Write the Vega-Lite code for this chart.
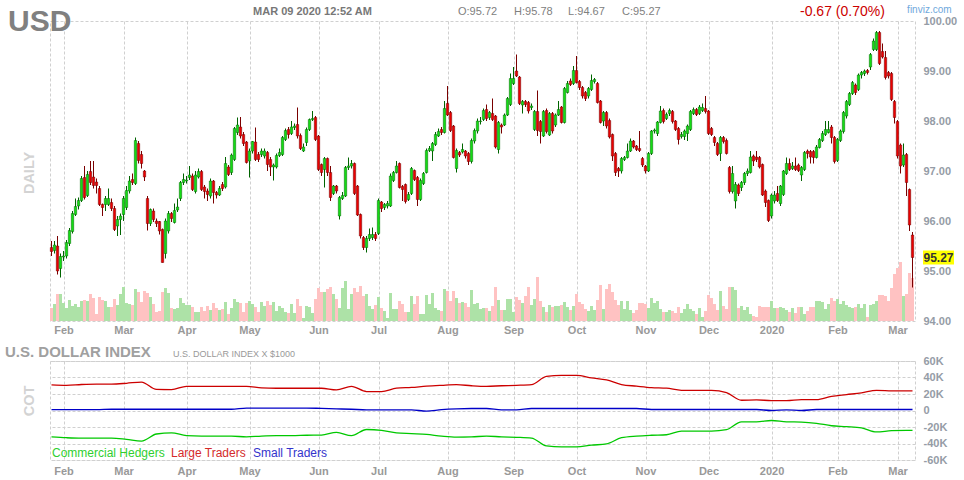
{
  "$schema": "https://vega.github.io/schema/vega-lite/v6.json",
  "background": "white",
  "padding": {"left": 4, "top": 3, "right": 0, "bottom": 0},
  "spacing": 8,
  "config": {
    "view": {"stroke": "#d0d0d0", "strokeDash": [3, 2]},
    "axis": {"gridColor": "#d0d0d0", "gridDash": [3, 2], "domain": false, "ticks": false, "tickSize": 0, "labelFont": "Liberation Sans", "labelFontWeight": "bold", "labelFontSize": 11, "labelColor": "#999999", "labelOverlap": false, "labelFlush": false},
    "text": {"font": "Liberation Sans"}
  },
  "datasets": {
    "px": [
      {"i":0,"o":95.47,"h":95.6,"l":95.3,"c":95.39,"v":13},
      {"i":1,"o":95.41,"h":95.6,"l":95.35,"c":95.52,"v":17},
      {"i":2,"o":95.5,"h":95.7,"l":94.93,"c":95.0,"v":27},
      {"i":3,"o":95.05,"h":95.35,"l":94.87,"c":95.29,"v":27},
      {"i":4,"o":95.28,"h":95.4,"l":95.2,"c":95.3,"v":18},
      {"i":5,"o":95.3,"h":95.62,"l":95.25,"c":95.57,"v":13},
      {"i":6,"o":95.55,"h":95.86,"l":95.5,"c":95.81,"v":21},
      {"i":7,"o":95.79,"h":96.2,"l":95.75,"c":96.15,"v":15},
      {"i":8,"o":96.13,"h":96.45,"l":96.1,"c":96.29,"v":17},
      {"i":9,"o":96.3,"h":96.47,"l":96.23,"c":96.41,"v":14},
      {"i":10,"o":96.41,"h":96.9,"l":96.38,"c":96.85,"v":20},
      {"i":11,"o":96.87,"h":97.1,"l":96.43,"c":96.47,"v":21},
      {"i":12,"o":96.51,"h":97.0,"l":96.48,"c":96.93,"v":20},
      {"i":13,"o":96.99,"h":97.2,"l":96.72,"c":96.77,"v":27},
      {"i":14,"o":96.88,"h":97.2,"l":96.65,"c":96.71,"v":23},
      {"i":15,"o":96.78,"h":96.85,"l":96.55,"c":96.71,"v":7},
      {"i":16,"o":96.65,"h":96.7,"l":96.3,"c":96.33,"v":24},
      {"i":17,"o":96.33,"h":96.35,"l":96.1,"c":96.27,"v":21},
      {"i":18,"o":96.33,"h":96.5,"l":96.2,"c":96.45,"v":20},
      {"i":19,"o":96.33,"h":96.65,"l":96.3,"c":96.45,"v":14},
      {"i":20,"o":96.37,"h":96.45,"l":96.2,"c":96.25,"v":14},
      {"i":21,"o":96.25,"h":96.3,"l":95.8,"c":95.83,"v":22},
      {"i":22,"o":95.9,"h":96.1,"l":95.7,"c":96.03,"v":16},
      {"i":23,"o":96.03,"h":96.15,"l":95.72,"c":96.1,"v":27},
      {"i":24,"o":96.13,"h":96.5,"l":96.0,"c":96.45,"v":34},
      {"i":25,"o":96.27,"h":96.7,"l":96.22,"c":96.61,"v":18},
      {"i":26,"o":96.6,"h":96.9,"l":96.55,"c":96.8,"v":17},
      {"i":27,"o":96.83,"h":96.95,"l":96.72,"c":96.77,"v":16},
      {"i":28,"o":96.75,"h":97.67,"l":96.72,"c":97.61,"v":32},
      {"i":29,"o":97.55,"h":97.6,"l":97.15,"c":97.21,"v":29},
      {"i":30,"o":97.33,"h":97.4,"l":97.05,"c":97.15,"v":19},
      {"i":31,"o":97.0,"h":97.02,"l":96.8,"c":96.88,"v":30},
      {"i":32,"o":96.45,"h":96.5,"l":95.81,"c":95.95,"v":28},
      {"i":33,"o":95.95,"h":96.25,"l":95.9,"c":96.23,"v":24},
      {"i":34,"o":96.2,"h":96.25,"l":95.98,"c":96.03,"v":17},
      {"i":35,"o":96.0,"h":96.05,"l":95.88,"c":95.95,"v":9},
      {"i":36,"o":95.99,"h":96.0,"l":95.73,"c":95.8,"v":10},
      {"i":37,"o":95.83,"h":95.85,"l":95.17,"c":95.17,"v":29},
      {"i":38,"o":95.35,"h":96.05,"l":95.25,"c":96.0,"v":33},
      {"i":39,"o":95.8,"h":96.2,"l":95.75,"c":96.15,"v":28},
      {"i":40,"o":96.15,"h":96.18,"l":95.98,"c":96.05,"v":13},
      {"i":41,"o":95.97,"h":96.35,"l":95.95,"c":96.21,"v":12},
      {"i":42,"o":96.22,"h":96.45,"l":96.18,"c":96.28,"v":13},
      {"i":43,"o":96.45,"h":96.8,"l":96.4,"c":96.77,"v":23},
      {"i":44,"o":96.77,"h":96.95,"l":96.72,"c":96.83,"v":18},
      {"i":45,"o":96.8,"h":96.9,"l":96.75,"c":96.82,"v":16},
      {"i":46,"o":96.87,"h":97.1,"l":96.82,"c":96.92,"v":16},
      {"i":47,"o":96.9,"h":96.95,"l":96.6,"c":96.63,"v":14},
      {"i":48,"o":96.59,"h":97.0,"l":96.55,"c":96.92,"v":9},
      {"i":49,"o":96.88,"h":97.05,"l":96.85,"c":96.99,"v":9},
      {"i":50,"o":96.99,"h":97.02,"l":96.6,"c":96.63,"v":14},
      {"i":51,"o":96.68,"h":96.72,"l":96.45,"c":96.59,"v":10},
      {"i":52,"o":96.6,"h":96.65,"l":96.4,"c":96.53,"v":15},
      {"i":53,"o":96.5,"h":96.85,"l":96.45,"c":96.8,"v":11},
      {"i":54,"o":96.8,"h":96.82,"l":96.35,"c":96.57,"v":18},
      {"i":55,"o":96.57,"h":96.6,"l":96.45,"c":96.52,"v":13},
      {"i":56,"o":96.52,"h":96.7,"l":96.5,"c":96.65,"v":11},
      {"i":57,"o":96.73,"h":96.78,"l":96.6,"c":96.65,"v":12},
      {"i":58,"o":96.68,"h":97.28,"l":96.65,"c":97.15,"v":19},
      {"i":59,"o":97.08,"h":97.12,"l":96.9,"c":96.93,"v":7},
      {"i":60,"o":96.97,"h":97.35,"l":96.92,"c":97.32,"v":13},
      {"i":61,"o":97.23,"h":97.88,"l":97.2,"c":97.85,"v":22},
      {"i":62,"o":97.77,"h":98.07,"l":97.72,"c":97.92,"v":19},
      {"i":63,"o":97.88,"h":98.08,"l":97.65,"c":97.7,"v":18},
      {"i":64,"o":97.73,"h":97.78,"l":97.5,"c":97.55,"v":9},
      {"i":65,"o":97.58,"h":97.6,"l":97.15,"c":97.17,"v":18},
      {"i":66,"o":97.2,"h":97.45,"l":96.87,"c":97.4,"v":20},
      {"i":67,"o":97.4,"h":97.6,"l":97.35,"c":97.59,"v":17},
      {"i":68,"o":97.58,"h":97.87,"l":97.2,"c":97.23,"v":14},
      {"i":69,"o":97.33,"h":97.38,"l":97.18,"c":97.23,"v":9},
      {"i":70,"o":97.33,"h":97.45,"l":97.28,"c":97.4,"v":19},
      {"i":71,"o":97.3,"h":97.45,"l":97.25,"c":97.4,"v":15},
      {"i":72,"o":97.37,"h":97.4,"l":97.0,"c":97.13,"v":20},
      {"i":73,"o":97.23,"h":97.28,"l":96.9,"c":97.08,"v":16},
      {"i":74,"o":97.08,"h":97.15,"l":96.81,"c":97.12,"v":19},
      {"i":75,"o":97.08,"h":97.35,"l":97.05,"c":97.31,"v":10},
      {"i":76,"o":97.31,"h":97.45,"l":97.28,"c":97.37,"v":15},
      {"i":77,"o":97.33,"h":97.7,"l":97.3,"c":97.67,"v":13},
      {"i":78,"o":97.63,"h":97.85,"l":97.6,"c":97.81,"v":9},
      {"i":79,"o":97.83,"h":97.88,"l":97.65,"c":97.73,"v":8},
      {"i":80,"o":97.75,"h":98.0,"l":97.72,"c":97.88,"v":17},
      {"i":81,"o":97.87,"h":97.95,"l":97.82,"c":97.9,"v":8},
      {"i":82,"o":97.93,"h":98.27,"l":97.65,"c":97.7,"v":22},
      {"i":83,"o":97.71,"h":97.75,"l":97.42,"c":97.45,"v":15},
      {"i":84,"o":97.4,"h":97.55,"l":97.38,"c":97.48,"v":3},
      {"i":85,"o":97.57,"h":97.87,"l":97.5,"c":97.83,"v":15},
      {"i":86,"o":97.83,"h":98.05,"l":97.8,"c":98.03,"v":14},
      {"i":87,"o":98.03,"h":98.2,"l":98.0,"c":98.05,"v":8},
      {"i":88,"o":98.07,"h":98.1,"l":97.6,"c":97.63,"v":22},
      {"i":89,"o":97.7,"h":97.72,"l":97.0,"c":97.03,"v":33},
      {"i":90,"o":97.13,"h":97.15,"l":96.9,"c":96.97,"v":29},
      {"i":91,"o":97.03,"h":97.28,"l":96.67,"c":97.25,"v":29},
      {"i":92,"o":97.25,"h":97.27,"l":96.9,"c":96.97,"v":32},
      {"i":93,"o":96.97,"h":97.1,"l":96.4,"c":96.47,"v":34},
      {"i":94,"o":96.55,"h":96.72,"l":96.52,"c":96.7,"v":27},
      {"i":95,"o":96.7,"h":96.72,"l":96.55,"c":96.6,"v":22},
      {"i":96,"o":96.1,"h":96.5,"l":96.03,"c":96.47,"v":13},
      {"i":97,"o":96.45,"h":96.58,"l":96.42,"c":96.51,"v":33},
      {"i":98,"o":96.5,"h":97.1,"l":96.48,"c":97.07,"v":40},
      {"i":99,"o":97.07,"h":97.27,"l":97.02,"c":97.1,"v":12},
      {"i":100,"o":97.1,"h":97.22,"l":97.05,"c":97.15,"v":27},
      {"i":101,"o":97.15,"h":97.17,"l":96.52,"c":96.55,"v":33},
      {"i":102,"o":96.7,"h":96.72,"l":96.1,"c":96.12,"v":29},
      {"i":103,"o":96.13,"h":96.15,"l":95.65,"c":95.7,"v":35},
      {"i":104,"o":95.67,"h":95.7,"l":95.42,"c":95.47,"v":25},
      {"i":105,"o":95.47,"h":95.7,"l":95.37,"c":95.65,"v":27},
      {"i":106,"o":95.65,"h":95.85,"l":95.6,"c":95.73,"v":15},
      {"i":107,"o":95.67,"h":95.87,"l":95.62,"c":95.73,"v":12},
      {"i":108,"o":95.73,"h":95.78,"l":95.6,"c":95.65,"v":16},
      {"i":109,"o":95.75,"h":96.45,"l":95.72,"c":96.41,"v":24},
      {"i":110,"o":96.38,"h":96.4,"l":96.18,"c":96.25,"v":13},
      {"i":111,"o":96.27,"h":96.36,"l":96.22,"c":96.33,"v":10},
      {"i":112,"o":96.3,"h":96.4,"l":96.25,"c":96.35,"v":3},
      {"i":113,"o":96.3,"h":96.95,"l":96.28,"c":96.9,"v":28},
      {"i":114,"o":96.81,"h":97.0,"l":96.78,"c":96.97,"v":12},
      {"i":115,"o":96.97,"h":97.2,"l":96.95,"c":97.1,"v":12},
      {"i":116,"o":97.15,"h":97.17,"l":96.65,"c":96.67,"v":20},
      {"i":117,"o":96.69,"h":96.72,"l":96.4,"c":96.63,"v":17},
      {"i":118,"o":96.73,"h":96.75,"l":96.35,"c":96.39,"v":9},
      {"i":119,"o":96.43,"h":96.58,"l":96.4,"c":96.53,"v":9},
      {"i":120,"o":96.55,"h":97.08,"l":96.52,"c":97.05,"v":25},
      {"i":121,"o":97.01,"h":97.03,"l":96.8,"c":96.83,"v":17},
      {"i":122,"o":96.87,"h":96.9,"l":96.3,"c":96.43,"v":25},
      {"i":123,"o":96.43,"h":96.85,"l":96.4,"c":96.81,"v":7},
      {"i":124,"o":96.75,"h":96.98,"l":96.72,"c":96.95,"v":7},
      {"i":125,"o":96.97,"h":97.45,"l":96.95,"c":97.41,"v":26},
      {"i":126,"o":97.41,"h":97.5,"l":97.38,"c":97.45,"v":17},
      {"i":127,"o":97.4,"h":97.58,"l":97.2,"c":97.55,"v":28},
      {"i":128,"o":97.53,"h":97.78,"l":97.5,"c":97.73,"v":13},
      {"i":129,"o":97.7,"h":97.85,"l":97.68,"c":97.79,"v":11},
      {"i":130,"o":97.83,"h":97.88,"l":97.72,"c":97.77,"v":10},
      {"i":131,"o":97.77,"h":98.4,"l":97.75,"c":98.25,"v":32},
      {"i":132,"o":98.35,"h":98.7,"l":98.1,"c":98.12,"v":30},
      {"i":133,"o":98.17,"h":98.2,"l":97.78,"c":97.81,"v":20},
      {"i":134,"o":97.9,"h":97.92,"l":97.25,"c":97.27,"v":30},
      {"i":135,"o":97.05,"h":97.45,"l":96.97,"c":97.41,"v":23},
      {"i":136,"o":97.37,"h":97.4,"l":97.28,"c":97.32,"v":18},
      {"i":137,"o":97.38,"h":97.55,"l":97.35,"c":97.43,"v":19},
      {"i":138,"o":97.4,"h":97.42,"l":97.25,"c":97.3,"v":18},
      {"i":139,"o":97.35,"h":97.38,"l":97.12,"c":97.19,"v":14},
      {"i":140,"o":97.19,"h":97.65,"l":97.15,"c":97.61,"v":31},
      {"i":141,"o":97.6,"h":97.85,"l":97.55,"c":97.81,"v":17},
      {"i":142,"o":97.8,"h":98.05,"l":97.75,"c":98.0,"v":18},
      {"i":143,"o":97.99,"h":98.08,"l":97.93,"c":98.0,"v":12},
      {"i":144,"o":98.03,"h":98.25,"l":98.0,"c":98.21,"v":13},
      {"i":145,"o":98.23,"h":98.33,"l":98.0,"c":98.05,"v":13},
      {"i":146,"o":98.07,"h":98.2,"l":98.02,"c":98.17,"v":10},
      {"i":147,"o":98.15,"h":98.45,"l":98.0,"c":98.03,"v":15},
      {"i":148,"o":98.1,"h":98.12,"l":97.45,"c":97.48,"v":34},
      {"i":149,"o":97.43,"h":98.0,"l":97.35,"c":97.97,"v":21},
      {"i":150,"o":97.92,"h":97.95,"l":97.75,"c":97.88,"v":11},
      {"i":151,"o":97.92,"h":98.15,"l":97.9,"c":98.12,"v":11},
      {"i":152,"o":98.12,"h":98.48,"l":98.1,"c":98.45,"v":22},
      {"i":153,"o":98.33,"h":98.95,"l":98.3,"c":98.85,"v":22},
      {"i":154,"o":98.75,"h":99.08,"l":98.72,"c":98.85,"v":9},
      {"i":155,"o":99.0,"h":99.33,"l":98.88,"c":98.9,"v":24},
      {"i":156,"o":98.88,"h":98.9,"l":98.32,"c":98.35,"v":21},
      {"i":157,"o":98.32,"h":98.42,"l":98.15,"c":98.39,"v":18},
      {"i":158,"o":98.39,"h":98.42,"l":98.28,"c":98.33,"v":25},
      {"i":159,"o":98.37,"h":98.4,"l":98.15,"c":98.2,"v":34},
      {"i":160,"o":98.27,"h":98.35,"l":98.22,"c":98.3,"v":16},
      {"i":161,"o":97.83,"h":98.22,"l":97.8,"c":98.19,"v":22},
      {"i":162,"o":98.19,"h":98.61,"l":97.7,"c":97.81,"v":44},
      {"i":163,"o":97.99,"h":98.02,"l":97.55,"c":97.79,"v":20},
      {"i":164,"o":97.7,"h":98.22,"l":97.68,"c":98.19,"v":14},
      {"i":165,"o":98.21,"h":98.25,"l":97.75,"c":97.79,"v":9},
      {"i":166,"o":97.72,"h":98.18,"l":97.7,"c":98.15,"v":16},
      {"i":167,"o":98.15,"h":98.18,"l":97.75,"c":97.8,"v":14},
      {"i":168,"o":97.92,"h":98.15,"l":97.88,"c":98.12,"v":15},
      {"i":169,"o":98.12,"h":98.4,"l":98.1,"c":98.23,"v":15},
      {"i":170,"o":98.28,"h":98.3,"l":97.95,"c":97.97,"v":16},
      {"i":171,"o":97.97,"h":98.68,"l":97.95,"c":98.65,"v":19},
      {"i":172,"o":98.57,"h":98.8,"l":98.55,"c":98.75,"v":14},
      {"i":173,"o":98.8,"h":98.85,"l":98.7,"c":98.73,"v":11},
      {"i":174,"o":98.75,"h":99.1,"l":98.72,"c":99.01,"v":15},
      {"i":175,"o":99.01,"h":99.3,"l":98.75,"c":98.77,"v":27},
      {"i":176,"o":98.79,"h":98.82,"l":98.62,"c":98.67,"v":19},
      {"i":177,"o":98.67,"h":98.7,"l":98.45,"c":98.5,"v":17},
      {"i":178,"o":98.57,"h":98.6,"l":98.4,"c":98.45,"v":12},
      {"i":179,"o":98.5,"h":98.68,"l":98.45,"c":98.65,"v":10},
      {"i":180,"o":98.63,"h":98.93,"l":98.6,"c":98.81,"v":15},
      {"i":181,"o":98.79,"h":98.86,"l":98.75,"c":98.83,"v":11},
      {"i":182,"o":98.75,"h":98.78,"l":98.35,"c":98.37,"v":21},
      {"i":183,"o":98.4,"h":98.42,"l":97.95,"c":97.97,"v":36},
      {"i":184,"o":98.0,"h":98.2,"l":97.9,"c":98.17,"v":12},
      {"i":185,"o":98.17,"h":98.2,"l":97.85,"c":97.9,"v":32},
      {"i":186,"o":98.01,"h":98.05,"l":97.65,"c":97.68,"v":37},
      {"i":187,"o":97.73,"h":97.75,"l":97.2,"c":97.3,"v":29},
      {"i":188,"o":97.35,"h":97.38,"l":96.9,"c":96.97,"v":21},
      {"i":189,"o":97.05,"h":97.08,"l":96.88,"c":97.0,"v":16},
      {"i":190,"o":97.0,"h":97.28,"l":96.95,"c":97.25,"v":20},
      {"i":191,"o":97.23,"h":97.3,"l":97.2,"c":97.27,"v":12},
      {"i":192,"o":97.27,"h":97.55,"l":97.25,"c":97.4,"v":20},
      {"i":193,"o":97.4,"h":97.65,"l":97.38,"c":97.6,"v":11},
      {"i":194,"o":97.6,"h":97.62,"l":97.45,"c":97.48,"v":8},
      {"i":195,"o":97.5,"h":97.52,"l":97.4,"c":97.43,"v":11},
      {"i":196,"o":97.45,"h":97.8,"l":97.38,"c":97.41,"v":18},
      {"i":197,"o":97.25,"h":97.28,"l":97.08,"c":97.12,"v":18},
      {"i":198,"o":97.1,"h":97.12,"l":96.95,"c":97.0,"v":17},
      {"i":199,"o":97.0,"h":97.38,"l":96.98,"c":97.35,"v":13},
      {"i":200,"o":97.35,"h":97.82,"l":97.32,"c":97.8,"v":23},
      {"i":201,"o":97.8,"h":97.85,"l":97.75,"c":97.82,"v":18},
      {"i":202,"o":97.75,"h":98.0,"l":97.7,"c":97.98,"v":20},
      {"i":203,"o":97.97,"h":98.3,"l":97.95,"c":98.2,"v":12},
      {"i":204,"o":98.21,"h":98.25,"l":97.95,"c":97.99,"v":9},
      {"i":205,"o":98.05,"h":98.17,"l":98.02,"c":98.13,"v":9},
      {"i":206,"o":98.15,"h":98.25,"l":98.1,"c":98.21,"v":11},
      {"i":207,"o":98.19,"h":98.22,"l":97.95,"c":97.99,"v":10},
      {"i":208,"o":98.0,"h":98.02,"l":97.8,"c":97.83,"v":8},
      {"i":209,"o":97.85,"h":97.88,"l":97.53,"c":97.63,"v":14},
      {"i":210,"o":97.69,"h":97.78,"l":97.65,"c":97.73,"v":8},
      {"i":211,"o":97.69,"h":97.83,"l":97.62,"c":97.8,"v":12},
      {"i":212,"o":97.75,"h":97.93,"l":97.6,"c":97.9,"v":17},
      {"i":213,"o":97.83,"h":98.22,"l":97.8,"c":98.19,"v":12},
      {"i":214,"o":98.15,"h":98.27,"l":98.12,"c":98.23,"v":10},
      {"i":215,"o":98.23,"h":98.26,"l":98.1,"c":98.13,"v":7},
      {"i":216,"o":98.15,"h":98.32,"l":98.12,"c":98.28,"v":13},
      {"i":217,"o":98.21,"h":98.35,"l":98.18,"c":98.27,"v":4},
      {"i":218,"o":98.25,"h":98.5,"l":98.15,"c":98.19,"v":10},
      {"i":219,"o":98.2,"h":98.22,"l":97.72,"c":97.75,"v":26},
      {"i":220,"o":97.85,"h":97.88,"l":97.7,"c":97.73,"v":23},
      {"i":221,"o":97.67,"h":97.7,"l":97.5,"c":97.57,"v":17},
      {"i":222,"o":97.55,"h":97.58,"l":97.3,"c":97.33,"v":11},
      {"i":223,"o":97.35,"h":97.7,"l":97.2,"c":97.67,"v":30},
      {"i":224,"o":97.67,"h":97.7,"l":97.55,"c":97.59,"v":15},
      {"i":225,"o":97.61,"h":97.65,"l":97.33,"c":97.35,"v":12},
      {"i":226,"o":97.07,"h":97.1,"l":96.55,"c":96.59,"v":34},
      {"i":227,"o":96.59,"h":97.1,"l":96.55,"c":96.95,"v":34},
      {"i":228,"o":96.4,"h":96.78,"l":96.25,"c":96.73,"v":31},
      {"i":229,"o":96.72,"h":96.75,"l":96.5,"c":96.55,"v":13},
      {"i":230,"o":96.67,"h":96.8,"l":96.6,"c":96.77,"v":15},
      {"i":231,"o":96.77,"h":96.98,"l":96.72,"c":96.95,"v":11},
      {"i":232,"o":96.95,"h":97.05,"l":96.9,"c":97.0,"v":14},
      {"i":233,"o":96.97,"h":97.4,"l":96.95,"c":97.28,"v":7},
      {"i":234,"o":97.3,"h":97.33,"l":97.1,"c":97.2,"v":5},
      {"i":235,"o":97.28,"h":97.4,"l":97.18,"c":97.23,"v":4},
      {"i":236,"o":97.27,"h":97.3,"l":97.05,"c":97.08,"v":15},
      {"i":237,"o":97.13,"h":97.15,"l":96.5,"c":96.52,"v":14},
      {"i":238,"o":96.6,"h":96.63,"l":96.28,"c":96.37,"v":14},
      {"i":239,"o":96.41,"h":96.43,"l":95.98,"c":96.01,"v":14},
      {"i":240,"o":96.1,"h":96.55,"l":96.05,"c":96.52,"v":20},
      {"i":241,"o":96.4,"h":96.6,"l":96.35,"c":96.52,"v":13},
      {"i":242,"o":96.55,"h":96.7,"l":96.38,"c":96.41,"v":13},
      {"i":243,"o":96.35,"h":96.72,"l":96.3,"c":96.7,"v":14},
      {"i":244,"o":96.53,"h":97.02,"l":96.5,"c":97.0,"v":13},
      {"i":245,"o":96.95,"h":97.27,"l":96.92,"c":97.15,"v":11},
      {"i":246,"o":97.15,"h":97.25,"l":97.0,"c":97.03,"v":9},
      {"i":247,"o":97.05,"h":97.18,"l":97.02,"c":97.1,"v":13},
      {"i":248,"o":97.1,"h":97.27,"l":97.0,"c":97.03,"v":8},
      {"i":249,"o":97.12,"h":97.15,"l":96.98,"c":97.01,"v":14},
      {"i":250,"o":96.92,"h":97.1,"l":96.8,"c":97.07,"v":14},
      {"i":251,"o":97.03,"h":97.4,"l":97.0,"c":97.37,"v":7},
      {"i":252,"o":97.4,"h":97.43,"l":97.25,"c":97.35,"v":10},
      {"i":253,"o":97.39,"h":97.42,"l":97.15,"c":97.28,"v":14},
      {"i":254,"o":97.39,"h":97.42,"l":97.15,"c":97.27,"v":14},
      {"i":255,"o":97.27,"h":97.52,"l":97.25,"c":97.48,"v":20},
      {"i":256,"o":97.47,"h":97.66,"l":97.45,"c":97.63,"v":20},
      {"i":257,"o":97.61,"h":97.8,"l":97.58,"c":97.75,"v":19},
      {"i":258,"o":97.73,"h":98.0,"l":97.7,"c":97.83,"v":12},
      {"i":259,"o":97.77,"h":98.0,"l":97.75,"c":97.83,"v":17},
      {"i":260,"o":97.88,"h":97.92,"l":97.55,"c":97.67,"v":23},
      {"i":261,"o":97.67,"h":97.7,"l":97.15,"c":97.19,"v":20},
      {"i":262,"o":97.21,"h":97.66,"l":97.18,"c":97.63,"v":22},
      {"i":263,"o":97.61,"h":97.83,"l":97.58,"c":97.8,"v":17},
      {"i":264,"o":97.79,"h":98.2,"l":97.75,"c":98.17,"v":20},
      {"i":265,"o":98.1,"h":98.42,"l":98.05,"c":98.39,"v":16},
      {"i":266,"o":98.33,"h":98.58,"l":98.3,"c":98.55,"v":14},
      {"i":267,"o":98.55,"h":98.8,"l":98.52,"c":98.77,"v":13},
      {"i":268,"o":98.72,"h":98.75,"l":98.52,"c":98.57,"v":14},
      {"i":269,"o":98.63,"h":98.95,"l":98.6,"c":98.92,"v":17},
      {"i":270,"o":98.92,"h":99.0,"l":98.85,"c":98.97,"v":13},
      {"i":271,"o":98.95,"h":99.03,"l":98.9,"c":99.0,"v":17},
      {"i":272,"o":99.01,"h":99.04,"l":98.93,"c":98.97,"v":4},
      {"i":273,"o":99.08,"h":99.36,"l":99.02,"c":99.33,"v":16},
      {"i":274,"o":99.43,"h":99.65,"l":99.4,"c":99.6,"v":17},
      {"i":275,"o":99.43,"h":99.8,"l":99.4,"c":99.77,"v":20},
      {"i":276,"o":99.77,"h":99.8,"l":99.12,"c":99.15,"v":26},
      {"i":277,"o":99.39,"h":99.55,"l":99.25,"c":99.28,"v":26},
      {"i":278,"o":99.27,"h":99.4,"l":98.83,"c":98.87,"v":25},
      {"i":279,"o":98.97,"h":99.0,"l":98.85,"c":98.9,"v":20},
      {"i":280,"o":98.95,"h":98.98,"l":98.4,"c":98.43,"v":33},
      {"i":281,"o":98.39,"h":98.42,"l":97.95,"c":98.07,"v":47},
      {"i":282,"o":97.99,"h":98.02,"l":97.25,"c":97.3,"v":53},
      {"i":283,"o":97.52,"h":97.55,"l":96.95,"c":97.1,"v":59},
      {"i":284,"o":97.12,"h":97.55,"l":97.08,"c":97.32,"v":25},
      {"i":285,"o":97.33,"h":97.36,"l":96.5,"c":96.77,"v":27},
      {"i":286,"o":96.63,"h":96.65,"l":95.8,"c":95.92,"v":48},
      {"i":287,"o":95.72,"h":95.78,"l":94.67,"c":95.27,"v":43}
    ],
    "cot": [
      {"i":0,"ch":-32,"lt":31,"st":1},
      {"i":5,"ch":-33,"lt":30.5,"st":1},
      {"i":10,"ch":-33.5,"lt":31.5,"st":1},
      {"i":15,"ch":-33.5,"lt":32,"st":1},
      {"i":20,"ch":-33.5,"lt":32,"st":1.5},
      {"i":25,"ch":-35,"lt":33,"st":1.5},
      {"i":30,"ch":-37,"lt":34.5,"st":1.5},
      {"i":35,"ch":-28.5,"lt":25.5,"st":1.5},
      {"i":40,"ch":-27,"lt":25.3,"st":1.5},
      {"i":45,"ch":-30.5,"lt":29.3,"st":1.5},
      {"i":50,"ch":-31,"lt":29.3,"st":1.5},
      {"i":55,"ch":-31,"lt":29.3,"st":1.5},
      {"i":60,"ch":-31,"lt":29.3,"st":1.5},
      {"i":65,"ch":-32,"lt":29.3,"st":3},
      {"i":70,"ch":-31,"lt":27.5,"st":3},
      {"i":75,"ch":-30.5,"lt":27,"st":3},
      {"i":80,"ch":-30.5,"lt":27,"st":3},
      {"i":85,"ch":-30,"lt":27,"st":3},
      {"i":90,"ch":-29.8,"lt":27,"st":2.5},
      {"i":95,"ch":-26.5,"lt":25,"st":2},
      {"i":100,"ch":-30.5,"lt":29.3,"st":1.5},
      {"i":105,"ch":-23,"lt":23,"st":0.8},
      {"i":110,"ch":-24,"lt":23,"st":0.8},
      {"i":115,"ch":-27,"lt":27,"st":0.8},
      {"i":120,"ch":-28,"lt":28,"st":0.8},
      {"i":125,"ch":-29,"lt":29.5,"st":-0.8},
      {"i":130,"ch":-31,"lt":30.5,"st":1},
      {"i":135,"ch":-32.2,"lt":31.3,"st":2},
      {"i":140,"ch":-32,"lt":30,"st":2.4},
      {"i":145,"ch":-31,"lt":29.3,"st":2.4},
      {"i":150,"ch":-32,"lt":30,"st":0.8},
      {"i":155,"ch":-32.5,"lt":30.5,"st":0.8},
      {"i":160,"ch":-33.4,"lt":31.3,"st":2.4},
      {"i":165,"ch":-43,"lt":41.3,"st":2.4},
      {"i":170,"ch":-44.2,"lt":42.5,"st":2.4},
      {"i":175,"ch":-44.2,"lt":42.5,"st":2.4},
      {"i":180,"ch":-42,"lt":39.5,"st":2.4},
      {"i":185,"ch":-40.5,"lt":37,"st":2.4},
      {"i":190,"ch":-33,"lt":31.5,"st":2.4},
      {"i":195,"ch":-31,"lt":29.5,"st":2.4},
      {"i":200,"ch":-30,"lt":27.7,"st":1.2},
      {"i":205,"ch":-29.4,"lt":27,"st":1.2},
      {"i":210,"ch":-25,"lt":24.5,"st":1.2},
      {"i":215,"ch":-25,"lt":24.5,"st":1.2},
      {"i":220,"ch":-25,"lt":24.5,"st":1.2},
      {"i":225,"ch":-23.3,"lt":21.7,"st":1.2},
      {"i":230,"ch":-13.7,"lt":12.4,"st":1.2},
      {"i":235,"ch":-13.7,"lt":12.8,"st":1.2},
      {"i":240,"ch":-12.1,"lt":12,"st":0},
      {"i":245,"ch":-13.7,"lt":12,"st":0.8},
      {"i":250,"ch":-14,"lt":13.2,"st":0},
      {"i":255,"ch":-15.5,"lt":13.2,"st":1.2},
      {"i":260,"ch":-18.5,"lt":17.2,"st":1.2},
      {"i":265,"ch":-19.5,"lt":19.3,"st":1.2},
      {"i":270,"ch":-21,"lt":21.3,"st":1.2},
      {"i":275,"ch":-26,"lt":24.5,"st":1.2},
      {"i":280,"ch":-24.5,"lt":23.9,"st":1.2},
      {"i":285,"ch":-24.1,"lt":23.7,"st":1.2},
      {"i":287,"ch":-24.1,"lt":23.7,"st":1.2}
    ]
  },
  "vconcat": [
    {
      "width": 865,
      "height": 300,
      "layer": [
        {
          "data": {"name": "px"},
          "mark": {"type": "bar", "width": 3},
          "encoding": {
            "x": {
              "field": "i",
              "type": "quantitative",
              "scale": {"domain": [-0.5, 287.83], "nice": false, "zero": false, "padding": 0},
              "axis": {
                "title": null,
                "values": [4, 24, 45, 66, 89, 109, 132, 154, 175, 198, 219, 240, 262, 282],
                "tickCount": 30,
                "labelExpr": "['Feb','Mar','Apr','May','Jun','Jul','Aug','Sep','Oct','Nov','Dec','2020','Feb','Mar'][indexof([4,24,45,66,89,109,132,154,175,198,219,240,262,282], datum.value)]",
                "labelPadding": 3
              }
            },
            "y": {"field": "v", "type": "quantitative", "scale": {"domain": [0, 300]}, "axis": null},
            "color": {"condition": {"test": "datum.c >= datum.o", "value": "#ade2a7"}, "value": "#ffc2c2"}
          }
        },
        {
          "layer": [
            {
              "data": {"name": "px"},
              "mark": {"type": "rule", "strokeWidth": 1},
              "encoding": {
                "x": {"field": "i", "type": "quantitative"},
                "y": {
                  "field": "l",
                  "type": "quantitative",
                  "scale": {"domain": [94, 100], "nice": false, "zero": false},
                  "axis": {"title": null, "orient": "right", "values": [94, 95, 96, 97, 98, 99, 100], "tickCount": 10, "format": ".2f", "labelPadding": 8, "labelColor": "#959ca6"}
                },
                "y2": {"field": "h"},
                "color": {"condition": {"test": "datum.c >= datum.o", "value": "#006400"}, "value": "#7a0000"}
              }
            },
            {
              "data": {"name": "px"},
              "mark": {"type": "bar", "width": 2.4, "strokeWidth": 0.5},
              "encoding": {
                "x": {"field": "i", "type": "quantitative"},
                "y": {"field": "o", "type": "quantitative"},
                "y2": {"field": "c"},
                "fill": {"condition": {"test": "datum.c >= datum.o", "value": "#14dc14"}, "value": "#ea0000"},
                "stroke": {"condition": {"test": "datum.c >= datum.o", "value": "#006400"}, "value": "#6e0000"}
              }
            },
            {
              "data": {"name": "px"},
              "transform": [{"filter": "datum.i == 287"}],
              "mark": {"type": "rect", "width": 31, "height": 14, "xOffset": 26, "fill": "#ffff00"},
              "encoding": {
                "x": {"field": "i", "type": "quantitative"},
                "y": {"field": "c", "type": "quantitative"}
              }
            },
            {
              "data": {"name": "px"},
              "transform": [{"filter": "datum.i == 287"}],
              "mark": {"type": "text", "dx": 26, "align": "center", "baseline": "middle", "fontWeight": "bold", "fontSize": 12, "fill": "#333333"},
              "encoding": {
                "x": {"field": "i", "type": "quantitative"},
                "y": {"field": "c", "type": "quantitative"},
                "text": {"field": "c", "format": ".2f"}
              }
            },
            {
              "data": {"values": [{}]},
              "mark": {"type": "text", "text": "USD", "align": "left", "baseline": "alphabetic", "fontSize": 30, "fontWeight": "bold", "fill": "#808080"},
              "encoding": {"x": {"datum": -14.5, "type": "quantitative"}, "y": {"datum": 99.81, "type": "quantitative"}}
            },
            {
              "data": {"values": [{}]},
              "mark": {"type": "text", "text": "MAR 09 2020 12:52 AM", "align": "left", "baseline": "alphabetic", "fontSize": 11, "fontWeight": "bold", "fill": "#777777"},
              "encoding": {"x": {"datum": 67.2, "type": "quantitative"}, "y": {"datum": 100.12, "type": "quantitative"}}
            },
            {
              "data": {"values": [{}]},
              "mark": {"type": "text", "text": "O:95.72", "align": "left", "baseline": "alphabetic", "fontSize": 11, "fill": "#808080"},
              "encoding": {"x": {"datum": 135.5, "type": "quantitative"}, "y": {"datum": 100.12, "type": "quantitative"}}
            },
            {
              "data": {"values": [{}]},
              "mark": {"type": "text", "text": "H:95.78", "align": "left", "baseline": "alphabetic", "fontSize": 11, "fill": "#808080"},
              "encoding": {"x": {"datum": 154.2, "type": "quantitative"}, "y": {"datum": 100.12, "type": "quantitative"}}
            },
            {
              "data": {"values": [{}]},
              "mark": {"type": "text", "text": "L:94.67", "align": "left", "baseline": "alphabetic", "fontSize": 11, "fill": "#808080"},
              "encoding": {"x": {"datum": 172.2, "type": "quantitative"}, "y": {"datum": 100.12, "type": "quantitative"}}
            },
            {
              "data": {"values": [{}]},
              "mark": {"type": "text", "text": "C:95.27", "align": "left", "baseline": "alphabetic", "fontSize": 11, "fill": "#808080"},
              "encoding": {"x": {"datum": 190.2, "type": "quantitative"}, "y": {"datum": 100.12, "type": "quantitative"}}
            },
            {
              "data": {"values": [{}]},
              "mark": {"type": "text", "text": "-0.67 (0.70%)", "align": "left", "baseline": "alphabetic", "fontSize": 14, "fill": "#cc0000"},
              "encoding": {"x": {"datum": 249.5, "type": "quantitative"}, "y": {"datum": 100.1, "type": "quantitative"}}
            },
            {
              "data": {"values": [{}]},
              "mark": {"type": "text", "text": "finviz.com", "align": "left", "baseline": "alphabetic", "fontSize": 10, "fill": "#6fa8dc"},
              "encoding": {"x": {"datum": 285.2, "type": "quantitative"}, "y": {"datum": 100.17, "type": "quantitative"}}
            },
            {
              "data": {"values": [{}]},
              "mark": {"type": "text", "text": "DAILY", "angle": 270, "align": "center", "baseline": "middle", "fontSize": 14.5, "fontWeight": "bold", "fill": "#d3d3d3"},
              "encoding": {"x": {"datum": -7.17, "type": "quantitative"}, "y": {"datum": 96.96, "type": "quantitative"}}
            }
          ]
        }
      ],
      "resolve": {"scale": {"y": "independent"}}
    },
    {
      "width": 865,
      "height": 99,
      "layer": [
        {
          "data": {"name": "cot"},
          "transform": [{"fold": ["ch", "lt", "st"], "as": ["k", "val"]}],
          "mark": {"type": "line", "strokeWidth": 1.3, "interpolate": "monotone"},
          "encoding": {
            "x": {
              "field": "i",
              "type": "quantitative",
              "scale": {"domain": [-0.5, 287.83], "nice": false, "zero": false, "padding": 0},
              "axis": {
                "title": null,
                "values": [4, 24, 45, 66, 89, 109, 132, 154, 175, 198, 219, 240, 262, 282],
                "tickCount": 30,
                "labelExpr": "['Feb','Mar','Apr','May','Jun','Jul','Aug','Sep','Oct','Nov','Dec','2020','Feb','Mar'][indexof([4,24,45,66,89,109,132,154,175,198,219,240,262,282], datum.value)]",
                "labelPadding": 5
              }
            },
            "y": {
              "field": "val",
              "type": "quantitative",
              "scale": {"domain": [-60, 60], "nice": false, "zero": false},
              "axis": {"title": null, "orient": "right", "values": [-60, -40, -20, 0, 20, 40, 60], "tickCount": 10, "labelExpr": "datum.value == 0 ? '0' : datum.value + 'K'", "labelPadding": 8, "labelColor": "#959ca6"}
            },
            "color": {"field": "k", "type": "nominal", "scale": {"domain": ["ch", "lt", "st"], "range": ["#00c800", "#cc0000", "#0000c8"]}, "legend": null}
          }
        },
        {
          "data": {"values": [{}]},
          "mark": {"type": "text", "text": "U.S. DOLLAR INDEX", "align": "left", "baseline": "alphabetic", "fontSize": 15, "fontWeight": "bold", "fill": "#a0a0a0"},
          "encoding": {"x": {"datum": -15.5, "type": "quantitative"}, "y": {"datum": 64.85, "type": "quantitative"}}
        },
        {
          "data": {"values": [{}]},
          "mark": {"type": "text", "text": "U.S. DOLLAR INDEX X $1000", "align": "left", "baseline": "alphabetic", "fontSize": 9, "fill": "#999999"},
          "encoding": {"x": {"datum": 40.5, "type": "quantitative"}, "y": {"datum": 65.2, "type": "quantitative"}}
        },
        {
          "data": {"values": [{}]},
          "mark": {"type": "text", "text": "COT", "angle": 270, "align": "center", "baseline": "middle", "fontSize": 14.5, "fontWeight": "bold", "fill": "#d3d3d3"},
          "encoding": {"x": {"datum": -7.17, "type": "quantitative"}, "y": {"datum": 11.5, "type": "quantitative"}}
        },
        {
          "data": {"values": [{}]},
          "mark": {"type": "text", "text": "Commercial Hedgers", "align": "left", "baseline": "alphabetic", "fontSize": 12, "fill": "#2fcf2f"},
          "encoding": {"x": {"datum": 0.17, "type": "quantitative"}, "y": {"datum": -56.4, "type": "quantitative"}}
        },
        {
          "data": {"values": [{}]},
          "mark": {"type": "text", "text": "Large Traders", "align": "left", "baseline": "alphabetic", "fontSize": 12, "fill": "#d42a2a"},
          "encoding": {"x": {"datum": 39.83, "type": "quantitative"}, "y": {"datum": -56.4, "type": "quantitative"}}
        },
        {
          "data": {"values": [{}]},
          "mark": {"type": "text", "text": "Small Traders", "align": "left", "baseline": "alphabetic", "fontSize": 12, "fill": "#3333cc"},
          "encoding": {"x": {"datum": 67.17, "type": "quantitative"}, "y": {"datum": -56.4, "type": "quantitative"}}
        }
      ]
    }
  ]
}
